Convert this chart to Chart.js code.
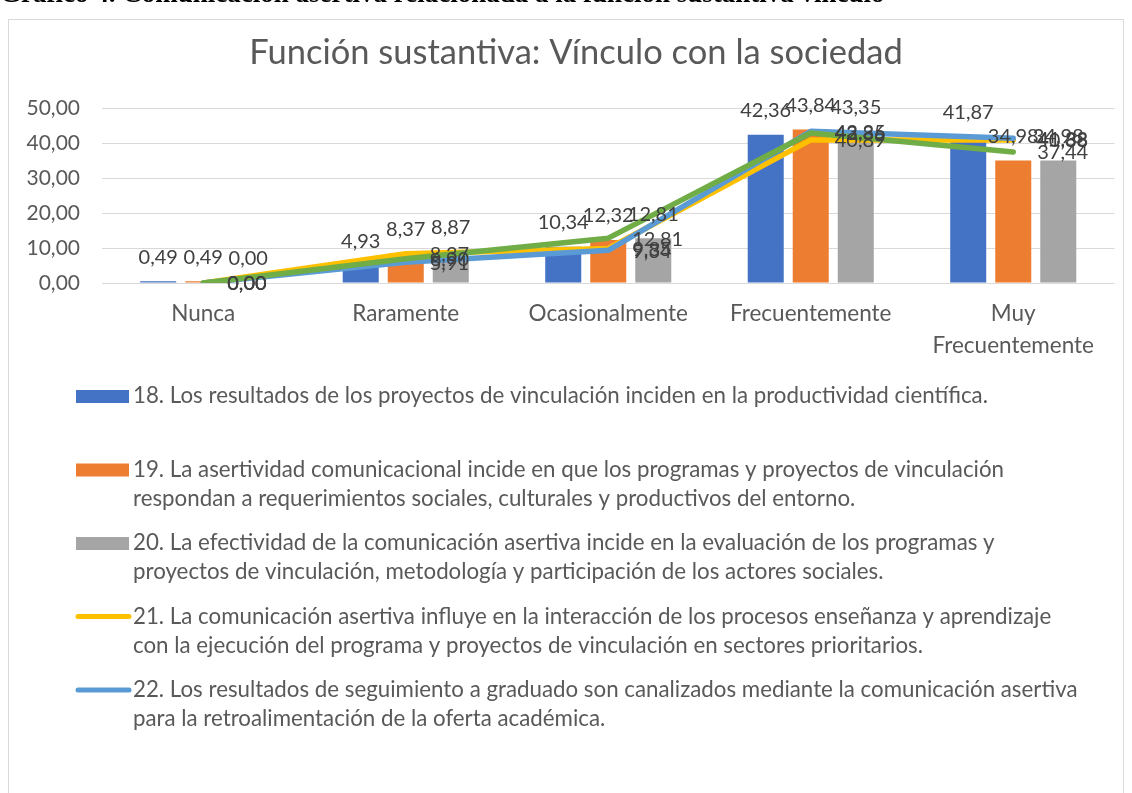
<!DOCTYPE html>
<html><head><meta charset="utf-8">
<script src="https://cdn.jsdelivr.net/npm/chart.js@4.4.1/dist/chart.umd.min.js"></script>
<style>
html,body{margin:0;padding:0;background:#fff;width:1132px;height:793px;overflow:hidden}
#hdr{position:absolute;left:0;top:-22px;font:bold 27px "Liberation Serif",serif;color:#000;white-space:nowrap;z-index:2}
#wrap{position:absolute;left:0;top:0;width:1132px;height:793px;z-index:1}
</style></head><body>
<div id="hdr">Gráfico 4. Comunicación asertiva relacionada a la función sustantiva vínculo</div>
<div id="wrap"><canvas id="c" width="1132" height="793"></canvas></div>
<script>
const chartTitle = 'Función sustantiva: Vínculo con la sociedad';
const categories = ['Nunca', 'Raramente', 'Ocasionalmente', 'Frecuentemente', ['Muy', 'Frecuentemente']];
const s18 = [0.49, 4.93, 10.34, 42.36, 41.87];
const s19 = [0.49, 8.37, 12.32, 43.84, 34.98];
const s20 = [0.00, 8.87, 12.81, 43.35, 34.98];
const s21 = [0.00, 8.37, 9.85, 40.89, 40.88];
const s22 = [0.00, 5.91, 9.34, 43.35, 41.38];
const s23 = [0.00, 6.90, 12.81, 42.86, 37.44];
const yTicks = [0, 10, 20, 30, 40, 50];
const seriesLabels = [
  ['18. Los resultados de los proyectos de vinculación inciden en la productividad científica.'],
  ['19. La asertividad comunicacional incide en que los programas y proyectos de vinculación', 'respondan a requerimientos sociales, culturales y productivos del entorno.'],
  ['20. La efectividad de la comunicación asertiva incide en la evaluación de los programas y', 'proyectos de vinculación, metodología y participación de los actores sociales.'],
  ['21. La comunicación asertiva influye en la interacción de los procesos enseñanza y aprendizaje', 'con la ejecución del programa y proyectos de vinculación en sectores prioritarios.'],
  ['22. Los resultados de seguimiento a graduado son canalizados mediante la comunicación asertiva', 'para la retroalimentación de la oferta académica.'],
  ['23.']
];

const FONT = 'Lato';
const TXT = '#595959';
const LBL = '#404040';
const fmt = v => v.toFixed(2).replace('.', ',');

const frame = {
  id: 'frame',
  beforeDraw(chart) {
    const c = chart.ctx;
    c.save();
    c.fillStyle = '#fff';
    c.fillRect(0, 0, chart.width, chart.height);
    c.strokeStyle = '#d9d9d9';
    c.lineWidth = 1;
    c.strokeRect(8.5, 19.5, 1115, 800);
    c.fillStyle = TXT;
    c.font = `34.5px ${FONT}`;
    c.textAlign = 'center';
    c.textBaseline = 'middle';
    c.fillText(chartTitle, 576, 53);
    c.restore();
  }
};

const labels = {
  id: 'vlabels',
  afterDatasetsDraw(chart) {
    const c = chart.ctx;
    c.save();
    c.font = `20px ${FONT}`;
    c.fillStyle = LBL;
    c.textBaseline = 'middle';
    chart.data.datasets.forEach((ds, i) => {
      const meta = chart.getDatasetMeta(i);
      if (ds.type === 'bar') {
        c.textAlign = 'center';
        meta.data.forEach((el, j) => c.fillText(fmt(ds.data[j]), el.x, el.y - 24));
      }
    });
    chart.data.datasets.forEach((ds, i) => {
      const meta = chart.getDatasetMeta(i);
      if (ds.type === 'line') {
        c.textAlign = 'left';
        meta.data.forEach((el, j) => c.fillText(fmt(ds.data[j]), el.x + 24, el.y + 1));
      }
    });
    c.restore();
  }
};

const legendPlugin = {
  id: 'xlegend',
  afterDraw(chart) {
    const c = chart.ctx;
    c.save();
    c.font = `22.3px ${FONT}`;
    c.textBaseline = 'middle';
    c.textAlign = 'left';
    const shown = 5;
    for (let i = 0; i < shown; i++) {
      const ds = chart.data.datasets[i];
      const y = 396 + i * 73.5;
      if (ds.type === 'bar') {
        c.fillStyle = ds.backgroundColor;
        c.fillRect(76, y - 6, 53, 13);
      } else {
        c.strokeStyle = ds.borderColor;
        c.lineWidth = 5;
        c.lineCap = 'round';
        c.beginPath();
        c.moveTo(78, y);
        c.lineTo(129, y);
        c.stroke();
      }
      c.fillStyle = TXT;
      seriesLabels[i].forEach((t, k) => c.fillText(t, 133, y + k * 29));
    }
    c.restore();
  }
};

const barDs = (data, label, color) => ({
  type: 'bar', label, data, backgroundColor: color, order: 10,
  categoryPercentage: 0.667, barPercentage: 0.8
});
const lineDs = (data, label, color, order) => ({
  type: 'line', label, data, borderColor: color, backgroundColor: color, order,
  borderWidth: 5.5, pointRadius: 0, pointHoverRadius: 0, tension: 0, fill: false,
  borderCapStyle: 'round', borderJoinStyle: 'round'
});

new Chart(document.getElementById('c'), {
  data: {
    labels: categories,
    datasets: [
      barDs(s18, seriesLabels[0].join(' '), '#4472C4'),
      barDs(s19, seriesLabels[1].join(' '), '#ED7D31'),
      barDs(s20, seriesLabels[2].join(' '), '#A5A5A5'),
      lineDs(s21, seriesLabels[3].join(' '), '#FFC000', 3),
      lineDs(s22, seriesLabels[4].join(' '), '#5B9BD5', 2),
      lineDs(s23, seriesLabels[5].join(' '), '#70AD47', 1)
    ]
  },
  options: {
    responsive: false,
    animation: false,
    devicePixelRatio: 1,
    layout: { padding: { top: 108, right: 17.5, bottom: 430, left: 0 } },
    plugins: { legend: { display: false }, title: { display: false }, tooltip: { enabled: false } },
    scales: {
      x: {
        grid: { display: false, drawTicks: false },
        border: { display: false },
        ticks: { color: TXT, font: { family: FONT, size: 22.5, lineHeight: 1.4 }, padding: 15, maxRotation: 0, autoSkip: false },
        afterFit: s => { s.height = 80; }
      },
      y: {
        min: 0, max: 50,
        afterBuildTicks: s => { s.ticks = yTicks.map(v => ({ value: v })); },
        grid: { color: '#d9d9d9', lineWidth: 1, drawTicks: false },
        border: { display: false },
        ticks: { color: TXT, font: { family: FONT, size: 21 }, padding: 22, callback: v => fmt(v) },
        afterFit: s => { s.width = 102; }
      }
    }
  },
  plugins: [frame, labels, legendPlugin]
});
</script>
</body></html>
